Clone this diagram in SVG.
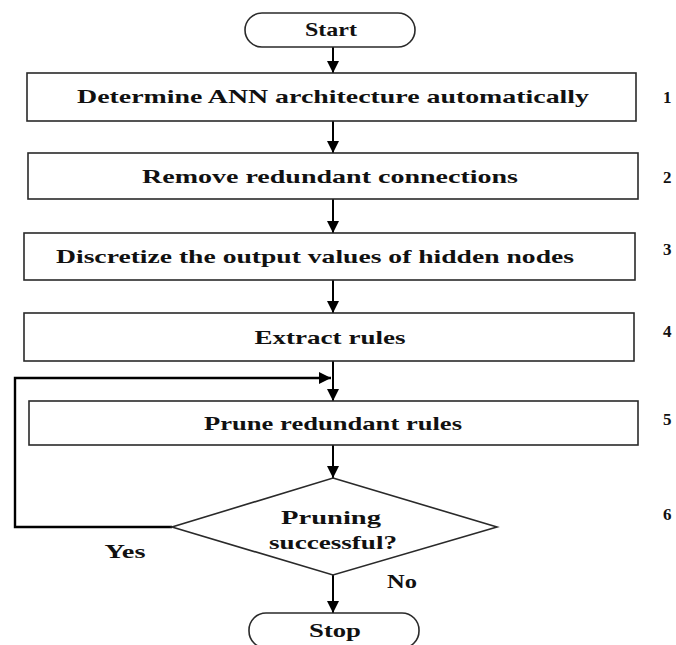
<svg xmlns="http://www.w3.org/2000/svg" width="676" height="645" viewBox="0 0 676 645">
<style>
.box{fill:#fff;stroke:#2a2a2a;stroke-width:1.6}
.t{font-family:"Liberation Serif","Times New Roman",serif;font-size:19px;fill:#111;text-anchor:middle;font-weight:bold}
.num{font-family:"Liberation Serif","Times New Roman",serif;font-size:17px;fill:#111;font-weight:bold}
.c{fill:none;stroke:#000;stroke-width:2}
</style>
<defs>
<marker id="ah" markerWidth="12" markerHeight="12" viewBox="0 0 12 12" refX="12" refY="6" orient="auto" markerUnits="userSpaceOnUse">
<path d="M0,0 L12,6 L0,12 Z" fill="#000"/>
</marker>
</defs>
<rect width="676" height="645" fill="#fff"/>
<g id="connectors">
<line class="c" x1="333" y1="47" x2="333" y2="73" marker-end="url(#ah)"/>
<line class="c" x1="333" y1="121" x2="333" y2="153" marker-end="url(#ah)"/>
<line class="c" x1="333" y1="199" x2="333" y2="233" marker-end="url(#ah)"/>
<line class="c" x1="333" y1="280" x2="333" y2="313" marker-end="url(#ah)"/>
<line class="c" x1="333" y1="361" x2="333" y2="401" marker-end="url(#ah)"/>
<polyline class="c" style="stroke-width:2.4" points="172,527 15,527 15,378 331,378" marker-end="url(#ah)"/>
<line class="c" x1="333" y1="445" x2="333" y2="478" marker-end="url(#ah)"/>
<line class="c" x1="333" y1="575" x2="333" y2="613" marker-end="url(#ah)"/>
<text class="t" transform="translate(125,558) scale(1.4,1)" textLength="29.3" lengthAdjust="spacingAndGlyphs">Yes</text>
<text class="t" transform="translate(402,588) scale(1.4,1)" textLength="21.4" lengthAdjust="spacingAndGlyphs">No</text>
</g>
<g id="start">
<rect class="box" x="245" y="13" width="170" height="34" rx="17"/>
<text class="t" transform="translate(331,36) scale(1.4,1)" textLength="37.1" lengthAdjust="spacingAndGlyphs">Start</text>
</g>
<g id="step1">
<rect class="box" x="27" y="73" width="609" height="48"/>
<text class="t" transform="translate(333,103) scale(1.4,1)" textLength="365.7" lengthAdjust="spacingAndGlyphs">Determine ANN architecture automatically</text>
<text class="num" x="663" y="103">1</text>
</g>
<g id="step2">
<rect class="box" x="28" y="153" width="610" height="46"/>
<text class="t" transform="translate(330,183) scale(1.4,1)" textLength="268.6" lengthAdjust="spacingAndGlyphs">Remove redundant connections</text>
<text class="num" x="663" y="183">2</text>
</g>
<g id="step3">
<rect class="box" x="24" y="233" width="611" height="47"/>
<text class="t" transform="translate(315,263) scale(1.4,1)" textLength="370" lengthAdjust="spacingAndGlyphs">Discretize the output values of hidden nodes</text>
<text class="num" x="663" y="255">3</text>
</g>
<g id="step4">
<rect class="box" x="24" y="313" width="610" height="48"/>
<text class="t" transform="translate(330,344) scale(1.4,1)" textLength="107.9" lengthAdjust="spacingAndGlyphs">Extract rules</text>
<text class="num" x="663" y="337">4</text>
</g>
<g id="step5">
<rect class="box" x="29" y="401" width="609" height="44"/>
<text class="t" transform="translate(333,430) scale(1.4,1)" textLength="184.3" lengthAdjust="spacingAndGlyphs">Prune redundant rules</text>
<text class="num" x="663" y="425">5</text>
</g>
<g id="decision">
<polygon class="box" points="333,478 497,527 333,575 172,527"/>
<text class="t" transform="translate(331,524) scale(1.4,1)" textLength="71.4" lengthAdjust="spacingAndGlyphs">Pruning</text>
<text class="t" transform="translate(333,549) scale(1.4,1)" textLength="91.4" lengthAdjust="spacingAndGlyphs">successful?</text>
<text class="num" x="663" y="520">6</text>
</g>
<g id="stop">
<rect class="box" x="249" y="613" width="170" height="35" rx="17"/>
<text class="t" transform="translate(335,637) scale(1.4,1)" textLength="37.1" lengthAdjust="spacingAndGlyphs">Stop</text>
</g>
</svg>
